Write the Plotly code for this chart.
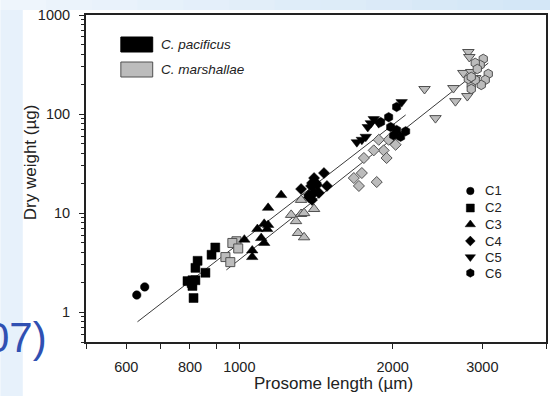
import math
import plotly.graph_objects as go

# ---------------- data (prosome length in µm, dry weight in µg) ----------------
# C. pacificus (black symbols)
pac_c1_len = [629, 652]
pac_c1_dw = [1.49, 1.80]
pac_c2_len = [791, 806, 809, 809, 820, 813, 820, 828, 858, 882, 897]
pac_c2_dw = [2.06, 1.97, 2.1, 1.84, 2.1, 1.39, 2.8, 3.3, 2.5, 3.8, 4.5]
pac_c3_len = [1023, 1060, 1060, 1085, 1104, 1119, 1119, 1134, 1139, 1139, 1208]
pac_c3_dw = [5.4, 4.2, 3.6, 6.9, 5.6, 5.0, 7.8, 6.9, 7.6, 11.3, 15.2]
pac_c4_len = [1322, 1370, 1389, 1402, 1383, 1414, 1402, 1466, 1486, 1433, 1420, 1370, 1389]
pac_c4_dw = [17.5, 15.2, 13.6, 16.0, 18.8, 20.1, 22.6, 25.4, 18.8, 16.0, 19.2, 14.5, 20.1]
pac_c5_len = [1701, 1740, 1771, 1787, 1812, 1836, 1878, 2083]
pac_c5_dw = [52, 55, 59, 74, 81, 89, 81, 132]
pac_c6_len = [2036, 1964, 1894, 1982, 2036, 2121, 2073, 2009]
pac_c6_dw = [118, 93, 83, 74, 69, 67, 59, 61]

# C. marshallae (grey symbols)
mar_c2_len = [987, 969, 995, 939, 960]
mar_c2_dw = [5.2, 5.0, 4.4, 3.6, 3.2]
mar_c3_len = [1322, 1402, 1264, 1322, 1340, 1292, 1304, 1340]
mar_c3_dw = [13.6, 11.0, 9.6, 9.8, 10.0, 8.3, 6.3, 5.7]
mar_c4_len = [2027, 1964, 1878, 1920, 1836, 1756, 1946, 1740, 1678, 1717, 1861]
mar_c4_dw = [49, 55, 55, 43, 43, 36, 36, 25.4, 22.6, 18.8, 20.6]
mar_c5_len = [2310, 2427, 2816, 2828, 2753, 2632, 2656, 2803, 2853, 2905]
mar_c5_dw = [179, 91, 423, 377, 260, 183, 135, 152, 266, 231]
mar_c6_len = [3012, 2971, 2905, 2932, 3081, 3039, 2985, 2853, 2853, 2905, 2816, 2853]
mar_c6_dw = [360, 313, 328, 285, 254, 221, 197, 197, 179, 221, 226, 237]

# regression lines (end points)
pac_fit_len = [631, 2121]
pac_fit_dw = [0.80, 98]
mar_fit_len = [943, 3081]
mar_fit_dw = [2.67, 327]

stage_labels = ["C1", "C2", "C3", "C4", "C5", "C6"]
x_tickvals = [500, 600, 700, 800, 900, 1000, 2000, 3000, 4000]
x_ticktext = ["", "600", "", "800", "", "1000", "2000", "3000", ""]
y_tickvals = [1, 10, 100, 1000]
y_minor = [0.5, 0.6, 0.7, 0.8, 0.9,
           2, 3, 4, 5, 6, 7, 8, 9,
           20, 30, 40, 50, 60, 70, 80, 90,
           200, 300, 400, 500, 600, 700, 800, 900]

# ---------------- styling ----------------
FONT = "Liberation Sans, Arial, sans-serif"
TXT = "#222222"
BLACK = "#000000"
GREY = "#bcbcbc"
GREY_EDGE = "#505050"
symbols = {"C1": "circle", "C2": "square", "C3": "triangle-up",
           "C4": "diamond", "C5": "triangle-down", "C6": "hexagon"}
sizes = {"C1": 8.5, "C2": 9, "C3": 10, "C4": 8.5, "C5": 10, "C6": 9.5}

fig = go.Figure()

# fit lines
fig.add_trace(go.Scatter(x=pac_fit_len, y=pac_fit_dw, mode="lines",
                         line=dict(color="#3a3a3a", width=1), hoverinfo="skip"))
fig.add_trace(go.Scatter(x=mar_fit_len, y=mar_fit_dw, mode="lines",
                         line=dict(color="#3a3a3a", width=1), hoverinfo="skip"))

def add_group(xs, ys, stage, grey):
    if grey:
        marker = dict(symbol=symbols[stage], size=sizes[stage], color=GREY,
                      line=dict(color=GREY_EDGE, width=1))
    else:
        marker = dict(symbol=symbols[stage], size=sizes[stage], color=BLACK,
                      line=dict(color=BLACK, width=0.5))
    fig.add_trace(go.Scatter(x=xs, y=ys, mode="markers", marker=marker))

add_group(mar_c2_len, mar_c2_dw, "C2", True)
add_group(mar_c3_len, mar_c3_dw, "C3", True)
add_group(mar_c4_len, mar_c4_dw, "C4", True)
add_group(mar_c5_len, mar_c5_dw, "C5", True)
add_group(mar_c6_len, mar_c6_dw, "C6", True)
add_group(pac_c1_len, pac_c1_dw, "C1", False)
add_group(pac_c2_len, pac_c2_dw, "C2", False)
add_group(pac_c3_len, pac_c3_dw, "C3", False)
add_group(pac_c4_len, pac_c4_dw, "C4", False)
add_group(pac_c5_len, pac_c5_dw, "C5", False)
add_group(pac_c6_len, pac_c6_dw, "C6", False)

# ---------------- in-plot stage legend (overlay axes in 0..1 units) ----------------
L, R, T, B = 86, 3, 15, 54
W, H = 551, 396
pw, ph = W - L - R, H - T - B

def px_x(p):
    return (p - L) / pw

def px_y(p):
    return (H - B - p) / ph

leg_y_px = [191, 208, 224.5, 241, 257, 273]
for lab, ypx in zip(stage_labels, leg_y_px):
    fig.add_trace(go.Scatter(x=[px_x(472)], y=[px_y(ypx)], mode="markers",
                             xaxis="x2", yaxis="y2",
                             marker=dict(symbol=symbols[lab], size=sizes[lab] - 1,
                                         color=BLACK, line=dict(color=BLACK, width=0.5))))

annotations = []
for lab, ypx in zip(stage_labels, leg_y_px):
    annotations.append(dict(x=px_x(485), y=px_y(ypx), xref="paper", yref="paper",
                            text=lab, showarrow=False, xanchor="left", yanchor="middle",
                            font=dict(family=FONT, size=13, color=TXT)))

# species legend
shapes = []
shapes.append(dict(type="rect", xref="paper", yref="paper",
                   x0=px_x(121), x1=px_x(153), y0=px_y(52), y1=px_y(37),
                   fillcolor=BLACK, line=dict(color=BLACK, width=1)))
shapes.append(dict(type="rect", xref="paper", yref="paper",
                   x0=px_x(121), x1=px_x(153), y0=px_y(77), y1=px_y(62),
                   fillcolor=GREY, line=dict(color=GREY_EDGE, width=1)))
annotations.append(dict(x=px_x(159), y=px_y(44.5), xref="paper", yref="paper",
                        text="<i>C. pacificus</i>", showarrow=False, xanchor="left",
                        yanchor="middle", font=dict(family=FONT, size=13.5, color=TXT)))
annotations.append(dict(x=px_x(159), y=px_y(69.5), xref="paper", yref="paper",
                        text="<i>C. marshallae</i>", showarrow=False, xanchor="left",
                        yanchor="middle", font=dict(family=FONT, size=13.5, color=TXT)))

# axis titles
annotations.append(dict(x=px_x(335), y=px_y(383), xref="paper", yref="paper",
                        text="Prosome length (µm)", showarrow=False,
                        xanchor="center", yanchor="middle",
                        font=dict(family=FONT, size=17, color=TXT)))
annotations.append(dict(x=px_x(30), y=px_y(162), xref="paper", yref="paper",
                        text="Dry weight (µg)", showarrow=False, textangle=-90,
                        xanchor="center", yanchor="middle",
                        font=dict(family=FONT, size=17, color=TXT)))

# slide background remnants (light blue strips) and title fragment
n_seg = 12
for i in range(n_seg):
    f = i / (n_seg - 1)
    r = int(238 - 26 * f)
    g = int(245 - 14 * f)
    b = int(252 - 5 * f)
    shapes.append(dict(type="rect", xref="paper", yref="paper", layer="below",
                       x0=px_x(W * i / n_seg), x1=px_x(W * (i + 1) / n_seg + 1),
                       y0=px_y(10), y1=px_y(0),
                       fillcolor=f"rgb({r},{g},{b})", line=dict(width=0)))
shapes.append(dict(type="rect", xref="paper", yref="paper", layer="below",
                   x0=px_x(0), x1=px_x(22.5), y0=px_y(H), y1=px_y(10),
                   fillcolor="#e7f1fb", line=dict(width=0)))
annotations.append(dict(x=px_x(49), y=px_y(337), xref="paper", yref="paper",
                        text="07)", showarrow=False, xanchor="right", yanchor="middle",
                        font=dict(family=FONT, size=42, color="#3050b2")))

axis_common = dict(showline=True, linecolor=TXT, linewidth=2, mirror=True,
                   showgrid=False, zeroline=False, ticks="outside", ticklen=5,
                   tickwidth=1.3, tickcolor=TXT,
                   tickfont=dict(family=FONT, size=14.5, color=TXT))

fig.update_layout(
    width=W, height=H,
    margin=dict(l=L, r=R, t=T, b=B, pad=0),
    paper_bgcolor="white", plot_bgcolor="white",
    showlegend=False,
    xaxis=dict(type="log", range=[math.log10(500), math.log10(4000)],
               tickmode="array", tickvals=x_tickvals, ticktext=x_ticktext,
               ticklabelstandoff=6, **axis_common),
    yaxis=dict(type="log", range=[math.log10(0.5), 3],
               tickmode="array", tickvals=y_tickvals,
               ticktext=[str(v) for v in y_tickvals],
               ticklabelstandoff=6,
               minor=dict(tickmode="array", tickvals=y_minor, ticks="outside",
                          ticklen=3, tickwidth=1, tickcolor=TXT),
               **axis_common),
    xaxis2=dict(overlaying="x", range=[0, 1], visible=False, fixedrange=True),
    yaxis2=dict(overlaying="y", range=[0, 1], visible=False, fixedrange=True),
    shapes=shapes,
    annotations=annotations,
)

fig.write_html("out.html")
